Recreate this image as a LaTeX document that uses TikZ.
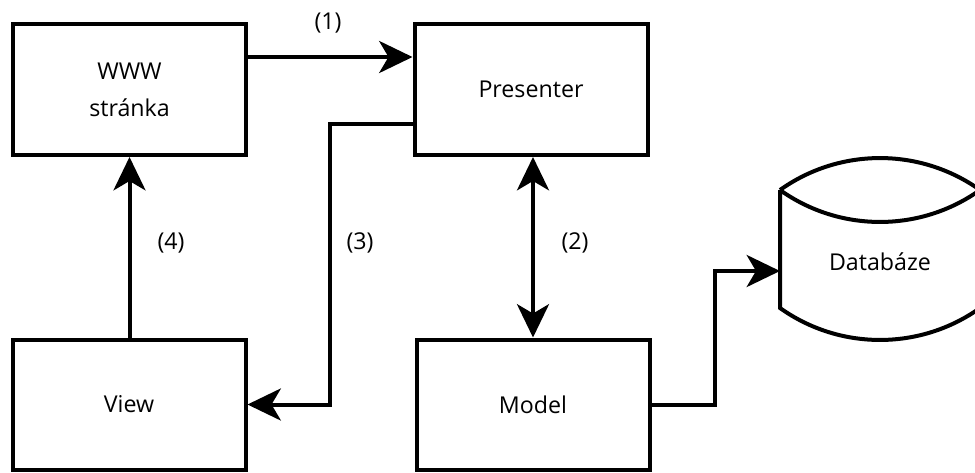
\documentclass[tikz,border=0pt]{standalone}
\usepackage{fontspec}
\setmainfont{Open Sans}
\usetikzlibrary{arrows.meta}
\begin{document}
\begin{tikzpicture}[x=0.75pt,y=-0.75pt,
  txt/.style={font=\fontsize{17.4}{27.75}\selectfont},
  box/.style={txt, draw, line width=3pt, minimum width={233*0.75pt},
    minimum height={131*0.75pt}, inner sep=0pt, align=center},
  lowbox/.style={box, minimum height={130*0.75pt}},
  link/.style={line width=3pt, -{Stealth[length=25pt,width=24pt,inset=7pt]}},
  biglink/.style={link, {Stealth[length=25pt,width=24pt,inset=7pt]}-{Stealth[length=25pt,width=24pt,inset=7pt]}},
  lbl/.style={txt}]
\clip (0,0) rectangle (975,472);
\fill[white] (0,0) rectangle (975,472);

% components
\node[box] (www) at (129.5,89.5) {WWW\\stránka};
\node[box] (presenter) at (531,89.5) {Presenter};
\node[lowbox] (view) at (129,404.5) {View};
\node[lowbox] (model) at (533,404.5) {Model};

% database drum
\draw[line width=3pt, line join=miter]
  (780,190) .. controls (839.8,147.4) and (920.2,147.4) .. (980,190)
  (780,190) .. controls (839.8,232.6) and (920.2,232.6) .. (980,190)
  (780,190) -- (780,308)
  .. controls (839.8,350.6) and (920.2,350.6) .. (980,308) -- (980,190);
\node[txt] (db) at (880,262) {Databáze};
\coordinate (dbin) at (780,271);

% routing points
\coordinate (r1) at (330,57);
\coordinate (r3) at (330,124);
\coordinate (r4) at (715,0);

% connectors
\draw[link] (r1 -| www.east) -- (r1 -| presenter.west);
\draw[link] (r3 -| presenter.west) -- (r3) |- (view.east);
\draw[link] (view.north -| www.south) -- (www.south);
\draw[biglink] (presenter.south -| model.north) -- (model.north);
\draw[link] (model.east) -- (model.east -| r4) |- (dbin);

% step labels
\node[lbl] (l1) at (328,23) {(1)};
\node[lbl] (l2) at (575,243) {(2)};
\node[lbl] (l3) at (360,243) {(3)};
\node[lbl] (l4) at (171,243) {(4)};
\end{tikzpicture}
\end{document}
